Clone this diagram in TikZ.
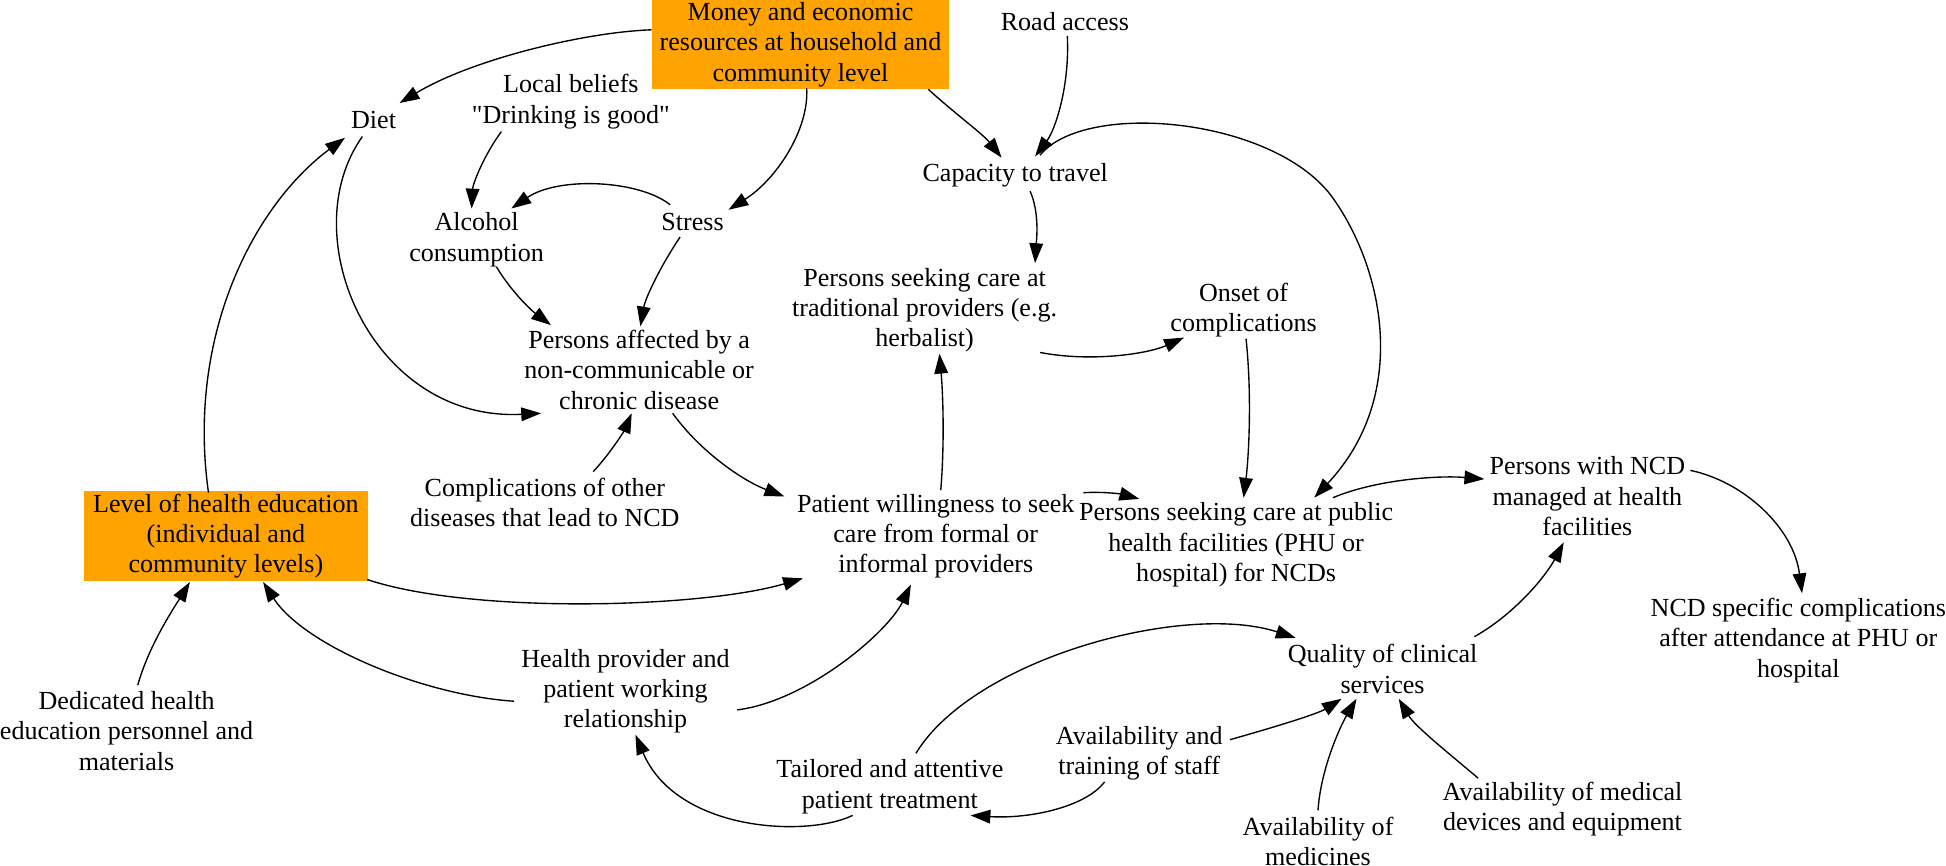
\documentclass[tikz,border=0pt]{standalone}
\usepackage{fontspec}
\setmainfont{Liberation Serif}[Ligatures=TeXOff]
\usetikzlibrary{arrows.meta,calc}
\definecolor{boxorange}{RGB}{255,163,0}
\newcommand\dfont{\fontsize{21}{24.5}\selectfont}
\begin{document}
\begin{tikzpicture}[x=1pt,y=-1pt,
  lbl/.style={align=center,font=\dfont,inner sep=1pt},
  obox/.style={lbl,fill=boxorange,inner sep=0pt},
  arr/.style={-{Triangle[length=16pt,width=11pt]},line width=1.1pt}]
\useasboundingbox (0,0) rectangle (1568,697);
% nodes
\node[obox,minimum width=240pt,minimum height=72pt] (money) at (645,36) {Money and economic\\resources at household and\\community level};
\node[lbl] (road) at (858,17) {Road access};
\node[lbl] (diet) at (301,97) {Diet};
\node[lbl] (beliefs) at (460,82) {Local beliefs\\"Drinking is good"};
\node[lbl] (alcohol) at (384,193) {Alcohol\\consumption};
\node[lbl] (stress) at (558,179) {Stress};
\node[lbl] (capacity) at (818,141) {Capacity to travel};
\node[lbl] (trad) at (745,250) {Persons seeking care at\\traditional providers (e.g.\\herbalist)};
\node[lbl] (onset) at (1002,250) {Onset of\\complications};
\node[lbl] (affected) at (515,298) {Persons affected by a\\non-communicable or\\chronic disease};
\node[lbl] (compl) at (439,405) {Complications of other\\diseases that lead to NCD};
\node[obox,minimum width=229pt,minimum height=72pt] (healthed) at (182,432) {Level of health education\\(individual and\\community levels)};
\node[lbl] (willing) at (754,432) {Patient willingness to seek\\care from formal or\\informal providers};
\node[lbl] (public) at (996,439) {Persons seeking care at public\\health facilities (PHU or\\hospital) for NCDs};
\node[lbl] (managed) at (1279,400) {Persons with NCD\\managed at health\\facilities};
\node[lbl] (ncdcomp) at (1449,516) {NCD specific complications\\after attendance at PHU or\\hospital};
\node[lbl] (dedicated) at (102,589) {Dedicated health\\education personnel and\\materials};
\node[lbl] (provider) at (504,557) {Health provider and\\patient working\\relationship};
\node[lbl] (quality) at (1114,539) {Quality of clinical\\services};
\node[lbl] (tailored) at (717,634) {Tailored and attentive\\patient treatment};
\node[lbl] (staff) at (918,607) {Availability and\\training of staff};
\node[lbl] (medicines) at (1062,678) {Availability of\\medicines};
\node[lbl] (devices) at (1259,652) {Availability of medical\\devices and equipment};
% connectors
\draw[arr] ($(money)+(-120,-12)$) .. controls (470,26) and (380,48) .. ($(diet)+(21,-14)$);
\draw[arr] ($(beliefs)+(-56,24)$) .. controls (390,125) and (381,148) .. ($(alcohol)+(-4,-25)$);
\draw[arr] ($(money)+(5,35)$) .. controls (652,105) and (625,145) .. ($(stress)+(29,-10)$);
\draw[arr] ($(money)+(103,36)$) .. controls (770,92) and (792,108) .. ($(capacity)+(-11,-14)$);
\draw[arr] ($(road)+(2,12)$) .. controls (862,70) and (850,105) .. ($(capacity)+(16,-15)$);
\coordinate (arcmid) at (1075,161);
\draw[arr] ($(capacity)+(20,-16)$) .. controls (875,80) and (1030,95) .. (arcmid)
  .. controls (1116,220) and (1135,320) .. ($(public)+(63,-38)$);
\draw[arr] ($(capacity)+(12,13)$) .. controls (838,172) and (835,195) .. ($(trad)+(89,-38)$);
\draw[arr] ($(stress)+(-18,-14)$) .. controls (515,145) and (450,142) .. ($(alcohol)+(28,-25)$);
\draw[arr] ($(alcohol)+(16,22)$) .. controls (412,235) and (428,250) .. ($(affected)+(-71,-36)$);
\draw[arr] ($(stress)+(-10,12)$) .. controls (533,213) and (520,240) .. ($(affected)+(1,-35)$);
\draw[arr] ($(diet)+(-9,13)$) .. controls (235,190) and (300,340) .. ($(affected)+(-79,35)$);
\draw[arr] ($(compl)+(39,-25)$) .. controls (492,365) and (503,347) .. ($(affected)+(-6,35)$);
\draw[arr] ($(affected)+(27,35)$) .. controls (565,365) and (600,388) .. ($(willing)+(-122,-32)$);
\draw[arr] ($(healthed)+(-14,-35)$) .. controls (150,270) and (205,165) .. ($(diet)+(-23,14)$);
\draw[arr] ($(healthed)+(114,35)$) .. controls (380,495) and (565,490) .. ($(willing)+(-107,34)$);
\draw[arr] ($(dedicated)+(9,-37)$) .. controls (120,520) and (140,490) .. ($(healthed)+(-29,37)$);
\draw[arr] ($(provider)+(-90,8)$) .. controls (340,560) and (245,520) .. ($(healthed)+(30,37)$);
\draw[arr] ($(provider)+(90,15)$) .. controls (650,565) and (715,510) .. ($(willing)+(-20,39)$);
\draw[arr] ($(willing)+(4,-37)$) .. controls (761,360) and (760,320) .. ($(trad)+(12,35)$);
\draw[arr] ($(trad)+(93,34)$) .. controls (880,292) and (925,285) .. ($(onset)+(-48,22)$);
\draw[arr] ($(onset)+(2,23)$) .. controls (1009,320) and (1006,370) .. ($(public)+(6,-38)$);
\draw[arr] ($(willing)+(119,-35)$) .. controls (888,396) and (903,398) .. ($(public)+(-78,-37)$);
\draw[arr] ($(public)+(78,-38)$) .. controls (1110,386) and (1160,383) .. ($(managed)+(-83,-14)$);
\draw[arr] ($(managed)+(83,-21)$) .. controls (1405,388) and (1445,425) .. ($(ncdcomp)+(3,-38)$);
\draw[arr] ($(quality)+(74,-26)$) .. controls (1220,495) and (1245,465) .. ($(managed)+(-19,37)$);
\draw[arr] ($(tailored)+(21,-27)$) .. controls (785,530) and (955,485) .. ($(quality)+(-70,-25)$);
\draw[arr] ($(staff)+(73,-11)$) .. controls (1030,585) and (1062,575) .. ($(quality)+(-33,24)$);
\draw[arr] ($(medicines)+(0,-25)$) .. controls (1064,620) and (1080,585) .. ($(quality)+(-21,24)$);
\draw[arr] ($(devices)+(-68,-25)$) .. controls (1165,605) and (1140,585) .. ($(quality)+(13,24)$);
\draw[arr] ($(staff)+(-28,23)$) .. controls (875,650) and (830,660) .. ($(tailored)+(65,23)$);
\draw[arr] ($(tailored)+(-30,23)$) .. controls (650,675) and (545,670) .. ($(provider)+(8,35)$);
\end{tikzpicture}
\end{document}
